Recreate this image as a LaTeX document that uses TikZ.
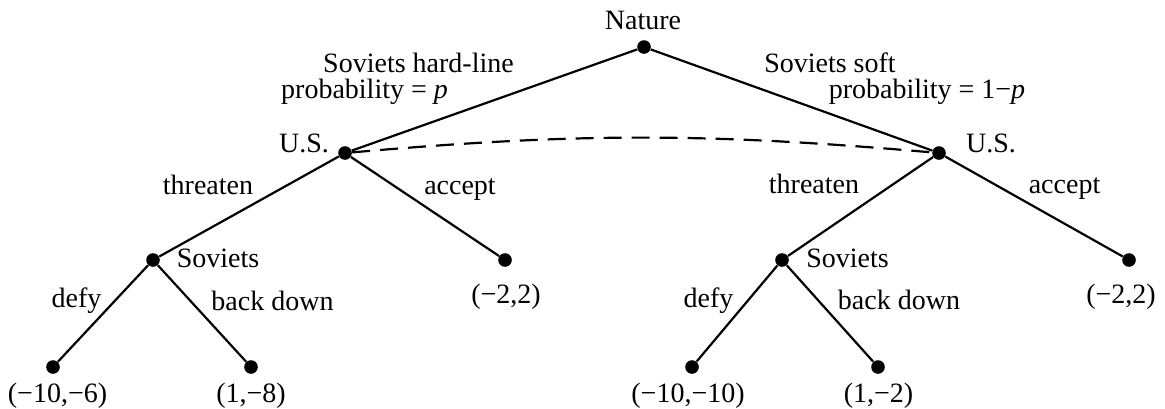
\documentclass[tikz,border=0pt]{standalone}
\usepackage{fontspec}
\setmainfont{Liberation Serif}
\tikzset{
  dot/.style={circle,fill,inner sep=0pt,minimum size=6.8pt},
  lbl/.style={anchor=base,inner sep=0pt},
  branch/.style={line width=1.1pt},
  infoset/.style={line width=1.1pt,dash pattern=on 9pt off 5pt}
}
\begin{document}
\begin{tikzpicture}[x=0.5pt,y=-0.5pt,font=\fontsize{14}{16}\selectfont]
\useasboundingbox (0,0) rectangle (1165,408);
% decision nodes
\node[dot] (nat) at (644,47) {};
\node[dot] (usl) at (345,153) {};\node[dot] (usr) at (939,153) {};
\node[dot] (sovl) at (153,260) {};\node[dot] (accl) at (505,260) {};
\node[dot] (sovr) at (782,260) {};\node[dot] (accr) at (1129,260) {};
\node[dot] (defl) at (53,367) {};\node[dot] (bckl) at (251,367) {};
\node[dot] (defr) at (692,367) {};\node[dot] (bckr) at (878,367) {};
% branches
\draw[branch] (usl)--(nat)--(usr);
\draw[branch] (sovl)--(usl)--(accl);\draw[branch] (sovr)--(usr)--(accr);
\draw[branch] (defl)--(sovl)--(bckl);\draw[branch] (defr)--(sovr)--(bckr);
\draw[infoset] (usl) to[bend left=5] (usr);
% labels
\node[lbl] (tnat) at (643,29) {Nature};
\node[lbl] (thard) at (418.5,72) {Soviets hard-line};
\node[lbl] (tprl) at (364.5,98) {probability = \textit{p}};
\node[lbl] (tsoft) at (830,72) {Soviets soft};
\node[lbl] (tprr) at (927,98) {probability = 1−\textit{p}};
\node[lbl] (tusl) at (304,152) {U.S.};\node[lbl] (tusr) at (991,152) {U.S.};
\node[lbl] (tthl) at (208,194) {threaten};\node[lbl] (tacl) at (460,194) {accept};
\node[lbl] (tthr) at (814,193) {threaten};\node[lbl] (tacr) at (1064.5,193) {accept};
\node[lbl] (tsvl) at (218,267) {Soviets};\node[lbl] (tsvr) at (847.5,267) {Soviets};
\node[lbl] (tdfl) at (76.5,307) {defy};\node[lbl] (tbdl) at (272.5,310) {back down};
\node[lbl] (tdfr) at (708.5,307) {defy};\node[lbl] (tbdr) at (899,309) {back down};
% payoffs
\node[lbl] (pacl) at (506,303) {(−2,2)};\node[lbl] (pacr) at (1121,303) {(−2,2)};
\node[lbl] (pdfl) at (57.5,402) {(−10,−6)};\node[lbl] (pbdl) at (251,402) {(1,−8)};
\node[lbl] (pdfr) at (688,402) {(−10,−10)};\node[lbl] (pbdr) at (878.5,402) {(1,−2)};
\end{tikzpicture}
\end{document}
